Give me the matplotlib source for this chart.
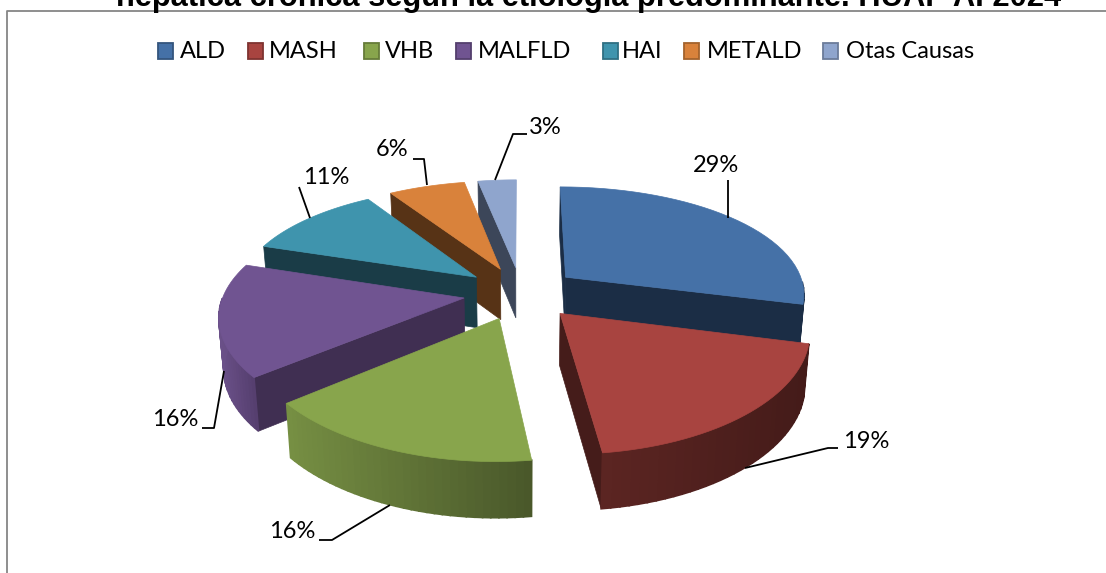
import numpy as np
import matplotlib
matplotlib.use("Agg")
import matplotlib.pyplot as plt
from matplotlib.colors import to_rgb
from matplotlib.patches import Polygon, Rectangle

titulo = "hepática crónica según la etiología predominante. HUAP AI 2024"
causas = ["ALD", "MASH", "VHB", "MALFLD", "HAI", "METALD", "Otas Causas"]
valores = [29, 19, 16, 16, 11, 6, 3]

color_top = ["#4571a7", "#a84440", "#88a54c", "#705491", "#3f94ad", "#d9823b", "#8fa5cd"]
color_lado = ["#1b2d45", "#451c1a", "#4a5828", "#402f52", "#1a3c47", "#573316", "#3c4659"]
# pared exterior: color izquierda, color derecha
pared_izq = ["#1b2d45", "#5c2522", "#768f43", "#6a5088", "#1a3c47", "#573316", "#3c4659"]
pared_der = ["#1b2d45", "#441b19", "#49572a", "#553e6e", "#1a3c47", "#573316", "#3c4659"]

# geometria del pie 3D en pixeles
cx, cy = 521.0, 293.0
R, H = 240.0, 110.0
px, py = 0.14, 0.165   # perspectiva
explota = 0.24
alto = 51.0
k_base = 0.017


def proyecta(X, t):
    sx = 1.0 / (1.0 - px * t)
    sy = 1.0 / (1.0 - py * t)
    return cx + X * R * sx, cy + t * H * sy, sy


def abajo(x, y, s):
    # el borde inferior de la pared
    return cx + (x - cx) * (1 - k_base), y + alto * (1 + (s - 1) * 0.4)


def porcion(a0, a1):
    medio = np.radians((a0 + a1) / 2)
    ox, ot = explota * np.sin(medio), -explota * np.cos(medio)
    ang = np.radians(np.linspace(a0, a1, 36))
    x, y, s = proyecta(ox + np.sin(ang), ot - np.cos(ang))
    ax0, ay0, as0 = proyecta(ox, ot)
    return ang, x, y, s, ax0, ay0, as0


fig = plt.figure(figsize=(11.06, 5.73), dpi=100)
ax = fig.add_axes([0, 0, 1, 1])
ax.set_xlim(0, 1106)
ax.set_ylim(573, 0)
ax.axis("off")

# marco del grafico
ax.plot([6.5, 6.5, 1106], [573, 10.5, 10.5], color="#868686", lw=1.3, zorder=1)

ax.text(589, 6, titulo, family="Liberation Sans", weight="bold", fontsize=22.2,
        ha="center", va="baseline", color="black", zorder=5)

# leyenda
leg_caja = [158, 248, 364, 456, 603, 684, 823]
leg_texto = [180, 269, 385, 478, 622, 707, 846]
for i in range(len(causas)):
    borde = np.array(to_rgb(color_top[i])) * 0.75
    ax.add_patch(Rectangle((leg_caja[i], 43), 14.5, 15.5, facecolor=color_top[i],
                           edgecolor=borde, lw=1.3, zorder=5))
    ax.text(leg_texto[i], 51, causas[i], family="Lato", fontsize=17, ha="left",
            va="center", color="black", zorder=5)

# porciones, de atras hacia adelante
limites = np.cumsum([0] + valores) * 3.6
orden = [6, 5, 4, 0, 3, 2, 1]
z = 2
for i in orden:
    a0, a1 = limites[i], limites[i + 1]
    ang, x, y, s, ax0, ay0, as0 = porcion(a0, a1)

    # paredes radiales visibles
    for k, visible in [(0, np.sin(np.radians(a0)) < 0.001), (-1, np.sin(np.radians(a1)) > 0)]:
        if visible:
            pts = [(ax0, ay0), (x[k], y[k]), abajo(x[k], y[k], s[k]), abajo(ax0, ay0, as0)]
            ax.add_patch(Polygon(pts, facecolor=color_lado[i], edgecolor=color_lado[i],
                                 lw=0.5, zorder=z))

    # pared exterior con degradado
    idx = np.where(np.cos(ang) <= 0)[0]
    if len(idx) > 1:
        c_izq = np.array(to_rgb(pared_izq[i]))
        c_der = np.array(to_rgb(pared_der[i]))
        xmin, xmax = x[idx].min(), x[idx].max()
        for j in idx[:-1]:
            f = (0.5 * (x[j] + x[j + 1]) - xmin) / max(xmax - xmin, 1)
            c = c_izq + (c_der - c_izq) * f
            pts = [(x[j], y[j]), (x[j + 1], y[j + 1]),
                   abajo(x[j + 1], y[j + 1], s[j + 1]), abajo(x[j], y[j], s[j])]
            ax.add_patch(Polygon(pts, facecolor=c, edgecolor=c, lw=1.2, zorder=z))

    # cara superior
    pts = [(ax0, ay0)] + list(zip(x, y))
    ax.add_patch(Polygon(pts, facecolor=color_top[i], edgecolor=color_top[i], lw=0.5, zorder=z))
    z += 1

# etiquetas con lineas guia
etiq_pos = [(716, 165), (866, 441), (292, 532), (175, 420), (326, 178), (392, 150), (545, 127)]
guias = [
    [(728, 218), (728, 180)],
    [(745, 468), (828, 448), (838, 448)],
    [(390, 505), (332, 540), (319, 540)],
    [(224, 371), (214, 428), (202, 428)],
    [(310, 218), (299, 187)],
    [(427, 185), (424, 159), (413, 159)],
    [(495, 180), (513, 134), (527, 134)],
]
for i in range(len(valores)):
    ax.plot(*zip(*guias[i]), color="black", lw=1.3, zorder=20, solid_capstyle="butt")
    ax.text(etiq_pos[i][0], etiq_pos[i][1], str(valores[i]) + "%", family="Lato", fontsize=17,
            ha="center", va="center", color="black", zorder=21)

fig.savefig("out.png", dpi=100, facecolor="white")
